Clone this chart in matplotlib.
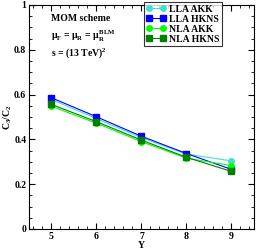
import matplotlib
matplotlib.use("Agg")
import matplotlib.pyplot as plt
from matplotlib.ticker import MultipleLocator

Y = [5, 6, 7, 8, 9]
lla_akk = [0.578, 0.493, 0.408, 0.334, 0.304]
lla_hkns = [0.586, 0.501, 0.414, 0.337, 0.266]
nla_akk = [0.548, 0.472, 0.390, 0.316, 0.283]
nla_hkns = [0.556, 0.479, 0.397, 0.320, 0.257]
labels = ["LLA AKK", "LLA HKNS", "NLA AKK", "NLA HKNS"]

plt.rcParams['font.family'] = ['Liberation Serif', 'DejaVu Serif']
plt.rcParams['mathtext.fontset'] = 'custom'
plt.rcParams['mathtext.rm'] = 'Liberation Serif:bold'
plt.rcParams['mathtext.it'] = 'Liberation Serif:bold'
plt.rcParams['mathtext.bf'] = 'Liberation Serif:bold'

fig = plt.figure(figsize=(2.56, 2.5), dpi=100)
ax = fig.add_axes([0.113, 0.084, 0.879, 0.896])

series = [lla_akk, lla_hkns, nla_akk, nla_hkns]
colors = ["#40E0D0", "#0000FF", "#00FF00", "#008000"]
markers = ["o", "s", "o", "s"]
for s, c, m, l in zip(series, colors, markers, labels):
    ax.plot(Y, s, color=c, marker=m, markersize=4, lw=0.8, label=l)

ax.set_xlim(4.5, 9.5)
ax.set_ylim(0, 1)
ax.xaxis.set_major_locator(MultipleLocator(1))
ax.xaxis.set_minor_locator(MultipleLocator(0.2))
ax.yaxis.set_major_locator(MultipleLocator(0.2))
ax.yaxis.set_minor_locator(MultipleLocator(0.05))
ax.tick_params(which='both', direction='in', top=True, right=True, labelsize=7)
ax.tick_params(which='major', length=4, width=0.8, pad=2)
ax.tick_params(which='minor', length=2, width=0.6)
ax.set_yticks([0, 0.2, 0.4, 0.6, 0.8, 1.0])
ax.set_yticklabels(["0", "0.2", "0.4", "0.6", "0.8", "1"])
for lab in ax.get_xticklabels() + ax.get_yticklabels():
    lab.set_fontweight('bold')

ax.set_xlabel("Y", fontsize=7, fontweight='bold')
ax.xaxis.set_label_coords(0.5, -0.055)
ax.set_ylabel(r"C$_3$/C$_2$", fontsize=7, fontweight='bold')
ax.yaxis.set_label_coords(-0.068, 0.5)

ax.text(0.1, 0.94, "MOM scheme", transform=ax.transAxes, fontsize=7, fontweight='bold', va='center')
ax.text(0.1, 0.86, r"$\mu_F$ = $\mu_R$ = $\mu_R^{BLM}$", transform=ax.transAxes, fontsize=7, fontweight='bold', va='center')
ax.text(0.1, 0.785, r"s = (13 TeV)$^2$", transform=ax.transAxes, fontsize=7, fontweight='bold', va='center')

leg = ax.legend(loc='upper left', bbox_to_anchor=(0.51, 1.012), fontsize=7,
                prop={'weight': 'bold', 'size': 7}, frameon=True, fancybox=False,
                edgecolor='black', handlelength=2.0, borderpad=0.25, labelspacing=0.1,
                handletextpad=0.4, borderaxespad=0, numpoints=2)
leg.get_frame().set_linewidth(0.8)

fig.savefig("out.png", dpi=100)
